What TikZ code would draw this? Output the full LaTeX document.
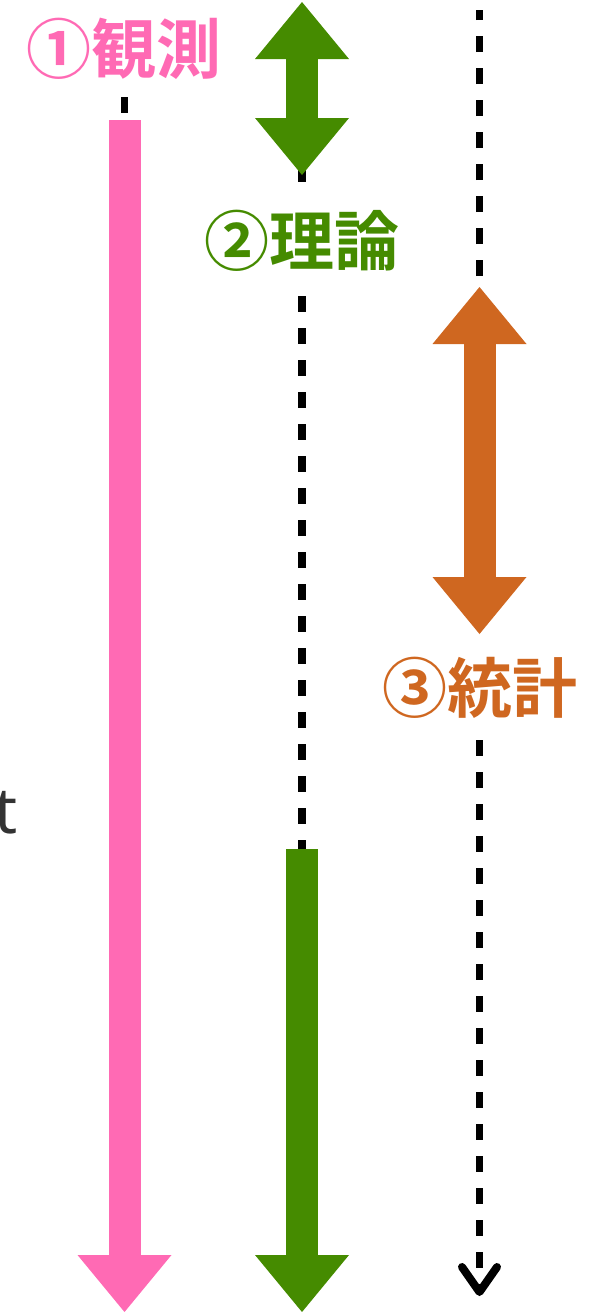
\documentclass[tikz,border=0pt]{standalone}
\usepackage{fontspec}
\newfontfamily\cjk{Noto Sans CJK JP}[BoldFont={Noto Sans CJK JP Bold}]
\newfontfamily\notosans{Noto Sans}
\usetikzlibrary{arrows.meta}
\definecolor{cpink}{HTML}{FF6AB4}
\definecolor{cgreen}{HTML}{458B00}
\definecolor{corange}{HTML}{CF6720}
\definecolor{ctext}{HTML}{333333}
\begin{document}
\begin{tikzpicture}[x=1pt,y=-1pt,
  bigarrow/.style={line width=32pt,
    -{Triangle[width=94pt,length=57pt,line width=0pt]}},
  bigdouble/.style={line width=32pt,
    {Triangle[width=94pt,length=57pt,line width=0pt]}-{Triangle[width=94pt,length=57pt,line width=0pt]}},
  dashline/.style={black,line width=7.5pt,dash pattern=on 16pt off 16pt},
  barb/.style={black,line width=8pt,line cap=round,line join=round},
  lbl/.style={font=\cjk\bfseries\fontsize{65}{65}\selectfont,inner sep=0pt,anchor=base}]
\useasboundingbox (0,0) rectangle (599,1312);
% coordinates
\coordinate (p0) at (124.5,120);
\coordinate (p1) at (124.5,1312);
\coordinate (pd0) at (124.5,97);
\coordinate (pd1) at (124.5,113);
\coordinate (g0) at (302,2);
\coordinate (g1) at (302,175);
\coordinate (gd0) at (302,170);
\coordinate (gd1) at (302,182);
\coordinate (gl0) at (302,296);
\coordinate (gl1) at (302,849);
\coordinate (g2) at (302,1312);
\coordinate (o0) at (479.5,10);
\coordinate (o1) at (479.5,276);
\coordinate (o2) at (479.5,287);
\coordinate (o3) at (479.5,634);
\coordinate (ol0) at (479.5,740);
\coordinate (ol1) at (479.5,1292);
\coordinate (bl) at (462,1267);
\coordinate (br) at (497,1267);
% dashed lines
\draw[dashline] (pd0) -- (pd1);
\draw[dashline] (gd0) -- (gd1);
\draw[dashline] (gl0) -- (gl1);
\draw[dashline] (o1) -- (o0);
\draw[dashline] (ol0) -- (ol1);
\draw[barb] (bl) -- (ol1) -- (br);
% big arrows
\draw[bigarrow,cpink] (p0) -- (p1);
\draw[bigdouble,cgreen] (g0) -- (g1);
\draw[bigarrow,cgreen] (gl1) -- (g2);
\draw[bigdouble,corange] (o2) -- (o3);
% labels
\node[lbl,text=cpink] (l1) at (124,73) {①観測};
\node[lbl,text=cgreen] (l2) at (302,265) {②理論};
\node[lbl,text=corange] (l3) at (480,712) {③統計};
\node[font=\notosans\fontsize{64}{64}\selectfont,text=ctext,inner sep=0pt,anchor=base west] (t) at (-6,833) {t};
\end{tikzpicture}
\end{document}
